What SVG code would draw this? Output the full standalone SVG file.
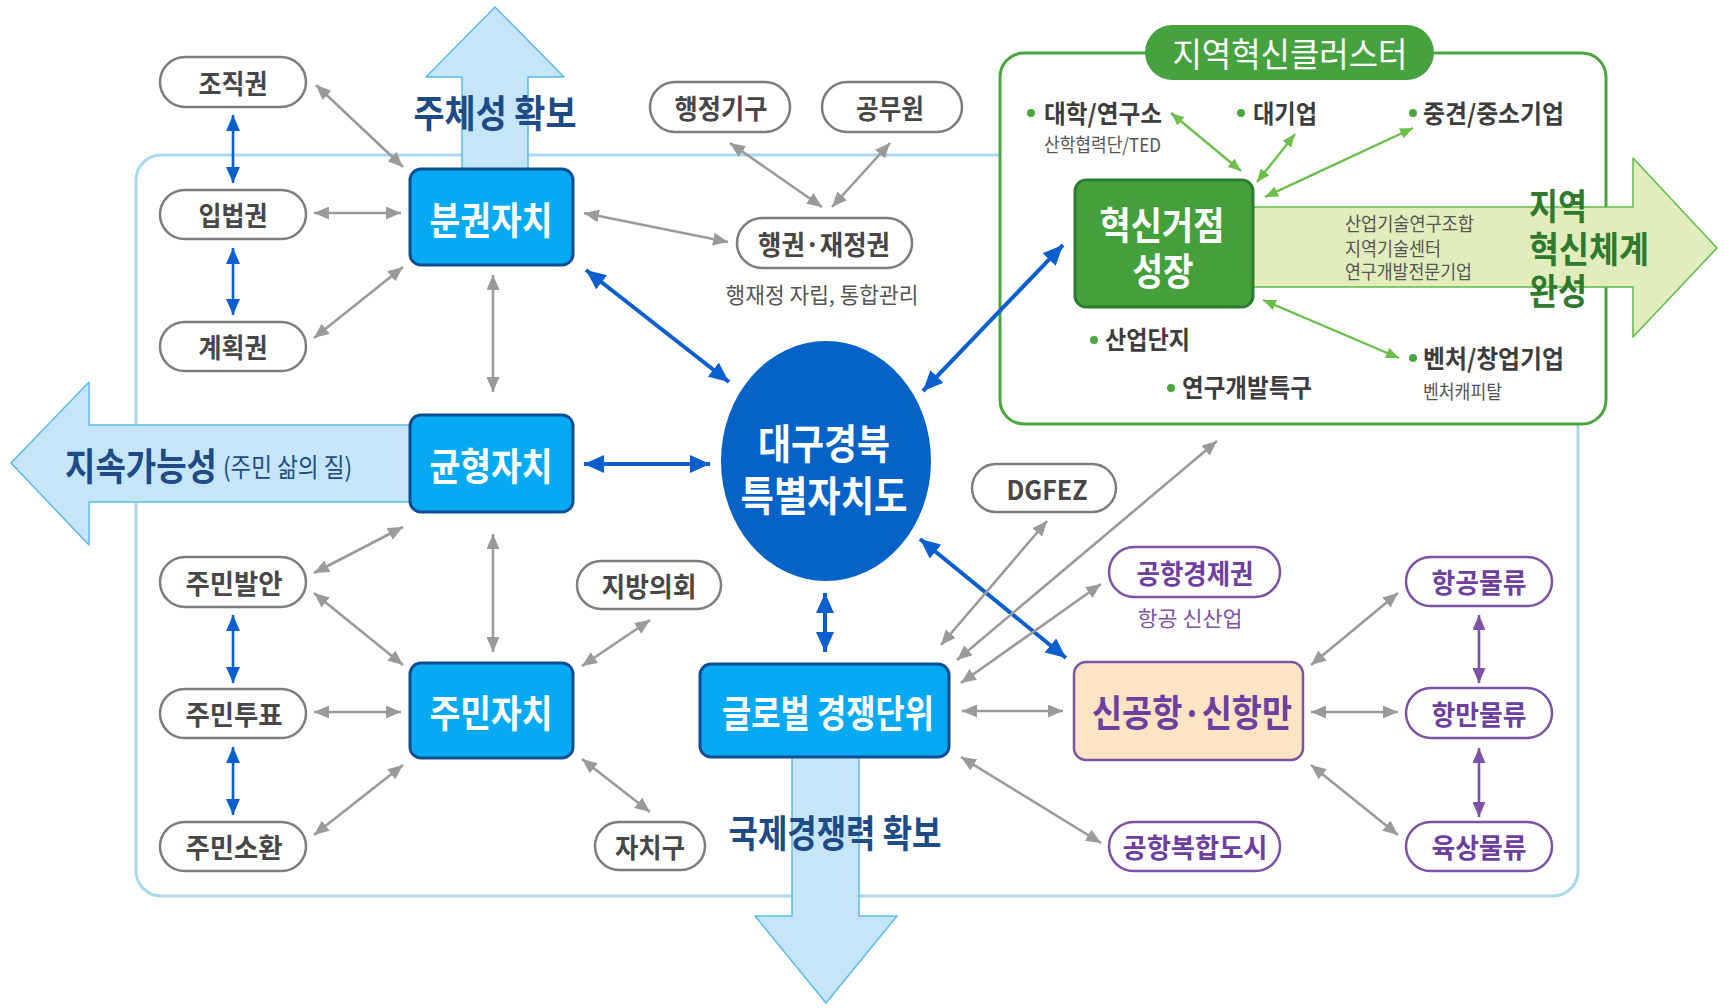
<svg xmlns="http://www.w3.org/2000/svg" width="1727" height="1008" viewBox="0 0 1727 1008">
<style>
text{font-family:'Noto Sans CJK KR','Noto Sans',sans-serif;dominant-baseline:central}
.pill{fill:#fff;stroke:#7d7d7d;stroke-width:2.5}
.ppill{fill:#fff;stroke:#7B52A6;stroke-width:2.5}
.lbl{font-weight:700;font-size:27px;fill:#474747;text-anchor:middle}
.plbl{font-weight:700;font-size:27px;fill:#6C3FA0;text-anchor:middle}
.box{fill:#06AAF2;stroke:#0E4C94;stroke-width:3}
.boxt{font-weight:700;font-size:38px;fill:#fff;text-anchor:middle}
.big{fill:#C4E6F8;stroke:#5DB9EA;stroke-width:1.5;stroke-linejoin:round}
.navy{font-weight:700;font-size:38px;fill:#1E4A86;text-anchor:middle}
.ga{stroke:#9a9a9a;stroke-width:2.6;fill:none;marker-start:url(#mg);marker-end:url(#mg)}
.ba{stroke:#0A5FCF;stroke-width:4;fill:none;marker-start:url(#mb);marker-end:url(#mb)}
.bs{stroke:#0A5FCF;stroke-width:2.6;fill:none;marker-start:url(#mbs);marker-end:url(#mbs)}
.gra{stroke:#6DBF4B;stroke-width:2.4;fill:none;marker-start:url(#mgr);marker-end:url(#mgr)}
.pa{stroke:#7B52A6;stroke-width:2.6;fill:none;marker-start:url(#mp);marker-end:url(#mp)}
.bul{font-weight:700;font-size:25px;fill:#3d3d3d}
.sub{font-weight:400;font-size:19px;fill:#555}
.dot{fill:#4CA640}
</style>
<defs>
<marker id="mg" viewBox="0 0 15 13" refX="15" refY="6.5" markerWidth="15" markerHeight="13" markerUnits="userSpaceOnUse" orient="auto-start-reverse"><path d="M0,0 L15,6.5 L0,13 z" fill="#9a9a9a"/></marker>
<marker id="mb" viewBox="0 0 20 18" refX="20" refY="9" markerWidth="20" markerHeight="18" markerUnits="userSpaceOnUse" orient="auto-start-reverse"><path d="M0,0 L20,9 L0,18 z" fill="#0A5FCF"/></marker>
<marker id="mbs" viewBox="0 0 16 14" refX="16" refY="7" markerWidth="16" markerHeight="14" markerUnits="userSpaceOnUse" orient="auto-start-reverse"><path d="M0,0 L16,7 L0,14 z" fill="#0A5FCF"/></marker>
<marker id="mgr" viewBox="0 0 13 11" refX="13" refY="5.5" markerWidth="13" markerHeight="11" markerUnits="userSpaceOnUse" orient="auto-start-reverse"><path d="M0,0 L13,5.5 L0,11 z" fill="#6DBF4B"/></marker>
<marker id="mp" viewBox="0 0 15 13" refX="15" refY="6.5" markerWidth="15" markerHeight="13" markerUnits="userSpaceOnUse" orient="auto-start-reverse"><path d="M0,0 L15,6.5 L0,13 z" fill="#7B52A6"/></marker>
</defs>
<rect width="1727" height="1008" fill="#fff"/>

<!-- outer frame -->
<rect id="frame" x="136" y="155" width="1442" height="741" rx="25" fill="none" stroke="#A9D9EF" stroke-width="3"/>

<!-- green cluster -->
<g id="cluster">
<rect x="1000" y="53" width="606" height="371" rx="24" fill="#fff" stroke="#4CA640" stroke-width="3"/>
<rect x="1145" y="25" width="289" height="55" rx="27.5" fill="#46A23F"/>
<text x="1290" y="52" font-size="34" fill="#fff" text-anchor="middle" textLength="235" lengthAdjust="spacingAndGlyphs">지역혁신클러스터</text>
</g>

<!-- big arrows -->
<g id="arrow-up"><polygon class="big" points="462,170 462,77 426,77 495,7 564,77 528,77 528,170"/>
<text class="navy" x="495" y="110" textLength="163" lengthAdjust="spacingAndGlyphs">주체성 확보</text></g>
<g id="arrow-left"><polygon class="big" points="410,425 89,425 89,382 11,463 89,545 89,502 410,502"/>
<text x="65" y="463" font-weight="700" font-size="38" fill="#1E4A86" textLength="152" lengthAdjust="spacingAndGlyphs">지속가능성</text>
<text x="223" y="465" font-weight="400" font-size="26" fill="#1E4A86" textLength="129" lengthAdjust="spacingAndGlyphs">(주민 삶의 질)</text></g>
<g id="arrow-down"><polygon class="big" points="792,757 792,916 755,916 826,1003 897,916 859,916 859,757"/>
<text class="navy" x="835" y="830" textLength="213" lengthAdjust="spacingAndGlyphs">국제경쟁력 확보</text></g>
<g id="arrow-green"><polygon points="1253,207 1633,207 1633,158 1717,248 1633,337 1633,287 1253,287" fill="#E1EDBC" stroke="#5DBB4A" stroke-width="1.5" stroke-linejoin="round"/>
<text x="1345" y="222" class="sub" fill="#444" textLength="129" lengthAdjust="spacingAndGlyphs">산업기술연구조합</text>
<text x="1345" y="247" class="sub" textLength="96" lengthAdjust="spacingAndGlyphs">지역기술센터</text>
<text x="1345" y="270" class="sub" textLength="127" lengthAdjust="spacingAndGlyphs">연구개발전문기업</text>
<text x="1529" y="204" font-weight="700" font-size="36" fill="#2F7A2C" textLength="58" lengthAdjust="spacingAndGlyphs">지역</text>
<text x="1529" y="247" font-weight="700" font-size="36" fill="#2F7A2C" textLength="120" lengthAdjust="spacingAndGlyphs">혁신체계</text>
<text x="1529" y="289" font-weight="700" font-size="36" fill="#2F7A2C" textLength="58" lengthAdjust="spacingAndGlyphs">완성</text></g>

<!-- connectors -->
<g id="connectors">
<line class="bs" x1="233" y1="115" x2="233" y2="183"/>
<line class="bs" x1="233" y1="248" x2="233" y2="315"/>
<line class="bs" x1="233" y1="615" x2="233" y2="683"/>
<line class="bs" x1="233" y1="747" x2="233" y2="815"/>
<line class="ba" x1="586" y1="270" x2="729" y2="382"/>
<line class="ba" x1="584" y1="464" x2="710" y2="464"/>
<line class="ba" x1="923" y1="391" x2="1063" y2="245"/>
<line class="ba" x1="825" y1="593" x2="825" y2="652"/>
<line class="ba" x1="920" y1="539" x2="1066" y2="658"/>
<line class="ga" x1="316" y1="85" x2="403" y2="167"/>
<line class="ga" x1="314" y1="213" x2="401" y2="213"/>
<line class="ga" x1="314" y1="338" x2="403" y2="267"/>
<line class="ga" x1="493" y1="275" x2="493" y2="392"/>
<line class="ga" x1="584" y1="213" x2="728" y2="242"/>
<line class="ga" x1="730" y1="143" x2="822" y2="207"/>
<line class="ga" x1="890" y1="143" x2="832" y2="207"/>
<line class="ga" x1="314" y1="573" x2="403" y2="527"/>
<line class="ga" x1="314" y1="593" x2="403" y2="665"/>
<line class="ga" x1="493" y1="534" x2="493" y2="652"/>
<line class="ga" x1="314" y1="712" x2="401" y2="712"/>
<line class="ga" x1="314" y1="835" x2="403" y2="765"/>
<line class="ga" x1="650" y1="620" x2="582" y2="666"/>
<line class="ga" x1="582" y1="759" x2="650" y2="812"/>
<line class="ga" x1="1047" y1="521" x2="941" y2="645"/>
<line class="ga" x1="1217" y1="441" x2="957" y2="660"/>
<line class="ga" x1="1101" y1="584" x2="961" y2="683"/>
<line class="ga" x1="962" y1="711" x2="1063" y2="711"/>
<line class="ga" x1="961" y1="757" x2="1101" y2="843"/>
<line class="ga" x1="1311" y1="665" x2="1398" y2="593"/>
<line class="ga" x1="1311" y1="712" x2="1398" y2="712"/>
<line class="ga" x1="1311" y1="765" x2="1398" y2="835"/>
<line class="gra" x1="1171" y1="113" x2="1241" y2="171"/>
<line class="gra" x1="1295" y1="134" x2="1257" y2="182"/>
<line class="gra" x1="1413" y1="128" x2="1265" y2="197"/>
<line class="gra" x1="1263" y1="300" x2="1399" y2="358"/>
<line class="pa" x1="1479" y1="615" x2="1479" y2="683"/>
<line class="pa" x1="1479" y1="748" x2="1479" y2="817"/>
</g>

<!-- left pills -->
<g id="n-jojik"><rect class="pill" x="160" y="57" width="146" height="50" rx="25"/><text class="lbl" x="233" y="82" textLength="69" lengthAdjust="spacingAndGlyphs">조직권</text></g>
<g id="n-ipbeop"><rect class="pill" x="160" y="190" width="146" height="49" rx="24.5"/><text class="lbl" x="233" y="214" textLength="69" lengthAdjust="spacingAndGlyphs">입법권</text></g>
<g id="n-gyehoek"><rect class="pill" x="160" y="322" width="146" height="49" rx="24.5"/><text class="lbl" x="233" y="346" textLength="69" lengthAdjust="spacingAndGlyphs">계획권</text></g>
<g id="n-balan"><rect class="pill" x="160" y="557" width="146" height="50" rx="25"/><text class="lbl" x="234" y="582" textLength="97" lengthAdjust="spacingAndGlyphs">주민발안</text></g>
<g id="n-tupyo"><rect class="pill" x="160" y="689" width="146" height="49" rx="24.5"/><text class="lbl" x="234" y="713" textLength="97" lengthAdjust="spacingAndGlyphs">주민투표</text></g>
<g id="n-sohwan"><rect class="pill" x="160" y="822" width="146" height="49" rx="24.5"/><text class="lbl" x="234" y="846" textLength="97" lengthAdjust="spacingAndGlyphs">주민소환</text></g>

<!-- top pills -->
<g id="n-haengjeong"><rect class="pill" x="650" y="82" width="140" height="50" rx="25"/><text class="lbl" x="721" y="107" textLength="93" lengthAdjust="spacingAndGlyphs">행정기구</text></g>
<g id="n-gongmu"><rect class="pill" x="822" y="82" width="140" height="50" rx="25"/><text class="lbl" x="890" y="107" textLength="68" lengthAdjust="spacingAndGlyphs">공무원</text></g>
<g id="n-jaejeong"><rect class="pill" x="737" y="218" width="175" height="50" rx="25"/><text class="lbl" x="824" y="243" textLength="132" lengthAdjust="spacingAndGlyphs">행권·재정권</text>
<text x="822" y="293" font-size="22" fill="#555" text-anchor="middle" textLength="193" lengthAdjust="spacingAndGlyphs">행재정 자립, 통합관리</text></g>

<!-- middle pills -->
<g id="n-uihoe"><rect class="pill" x="577" y="561" width="144" height="48" rx="24"/><text class="lbl" x="649" y="585" textLength="95" lengthAdjust="spacingAndGlyphs">지방의회</text></g>
<g id="n-jachigu"><rect class="pill" x="595" y="822" width="110" height="48" rx="24"/><text class="lbl" x="650" y="846" textLength="70" lengthAdjust="spacingAndGlyphs">자치구</text></g>
<g id="n-dgfez"><rect class="pill" x="972" y="464" width="144" height="48" rx="24"/><text class="lbl" x="1047" y="488" textLength="81" lengthAdjust="spacingAndGlyphs">DGFEZ</text></g>

<!-- purple pills -->
<g id="n-gyeongje"><rect class="ppill" x="1109" y="547" width="171" height="50" rx="25"/><text class="plbl" x="1195" y="572" textLength="117" lengthAdjust="spacingAndGlyphs">공항경제권</text>
<text x="1190" y="617" font-size="21" fill="#7B52A6" text-anchor="middle" textLength="105" lengthAdjust="spacingAndGlyphs">항공 신산업</text></g>
<g id="n-bokhap"><rect class="ppill" x="1109" y="822" width="171" height="49" rx="24.5"/><text class="plbl" x="1195" y="846" textLength="145" lengthAdjust="spacingAndGlyphs">공항복합도시</text></g>
<g id="n-hanggong"><rect class="ppill" x="1406" y="557" width="146" height="49" rx="24.5"/><text class="plbl" x="1479" y="581" textLength="95" lengthAdjust="spacingAndGlyphs">항공물류</text></g>
<g id="n-hangman"><rect class="ppill" x="1406" y="688" width="146" height="50" rx="25"/><text class="plbl" x="1479" y="713" textLength="95" lengthAdjust="spacingAndGlyphs">항만물류</text></g>
<g id="n-yuksang"><rect class="ppill" x="1406" y="822" width="146" height="49" rx="24.5"/><text class="plbl" x="1479" y="846" textLength="95" lengthAdjust="spacingAndGlyphs">육상물류</text></g>

<!-- blue boxes -->
<g id="n-bungwon"><rect class="box" x="410" y="169" width="163" height="96" rx="11"/><text class="boxt" x="491" y="217" textLength="123" lengthAdjust="spacingAndGlyphs">분권자치</text></g>
<g id="n-gyunhyeong"><rect class="box" x="410" y="415" width="163" height="97" rx="11"/><text class="boxt" x="491" y="463" textLength="123" lengthAdjust="spacingAndGlyphs">균형자치</text></g>
<g id="n-jumin"><rect class="box" x="410" y="663" width="163" height="95" rx="11"/><text class="boxt" x="491" y="710" textLength="123" lengthAdjust="spacingAndGlyphs">주민자치</text></g>
<g id="n-global"><rect class="box" x="700" y="664" width="249" height="93" rx="11"/><text class="boxt" x="828" y="710" textLength="212" lengthAdjust="spacingAndGlyphs">글로벌 경쟁단위</text></g>

<!-- center ellipse -->
<g id="n-center"><ellipse cx="826" cy="461" rx="105" ry="120" fill="#0563C8"/>
<text x="824" y="441" font-weight="700" font-size="41" fill="#fff" text-anchor="middle" textLength="132" lengthAdjust="spacingAndGlyphs">대구경북</text>
<text x="824" y="493" font-weight="700" font-size="41" fill="#fff" text-anchor="middle" textLength="167" lengthAdjust="spacingAndGlyphs">특별자치도</text></g>

<!-- airport/port -->
<g id="n-airport"><rect x="1074" y="662" width="229" height="98" rx="12" fill="#FDE4C2" stroke="#7B52A6" stroke-width="2.5"/>
<text x="1192" y="711" font-weight="700" font-size="37" fill="#6C3FA0" text-anchor="middle" textLength="200" lengthAdjust="spacingAndGlyphs">신공항·신항만</text></g>

<!-- innovation hub -->
<g id="n-hub"><rect x="1075" y="180" width="178" height="127" rx="11" fill="#43A03B" stroke="#2E7D2E" stroke-width="3"/>
<text x="1162" y="222" font-weight="700" font-size="38" fill="#fff" text-anchor="middle" textLength="125" lengthAdjust="spacingAndGlyphs">혁신거점</text>
<text x="1163" y="268" font-weight="700" font-size="38" fill="#fff" text-anchor="middle" textLength="61" lengthAdjust="spacingAndGlyphs">성장</text></g>

<!-- cluster bullets -->
<g id="n-univ"><circle class="dot" cx="1031" cy="113" r="4"/><text class="bul" x="1044" y="112" textLength="118" lengthAdjust="spacingAndGlyphs">대학/연구소</text>
<text class="sub" x="1044" y="143" textLength="117" lengthAdjust="spacingAndGlyphs">산학협력단/TED</text></g>
<g id="n-large"><circle class="dot" cx="1241" cy="113" r="4"/><text class="bul" x="1253" y="112" textLength="64" lengthAdjust="spacingAndGlyphs">대기업</text></g>
<g id="n-sme"><circle class="dot" cx="1413" cy="113" r="4"/><text class="bul" x="1423" y="112" textLength="141" lengthAdjust="spacingAndGlyphs">중견/중소기업</text></g>
<g id="n-complex"><circle class="dot" cx="1094" cy="340" r="4"/><text class="bul" x="1105" y="338" textLength="85" lengthAdjust="spacingAndGlyphs">산업단지</text></g>
<g id="n-rnd"><circle class="dot" cx="1171" cy="388" r="4"/><text class="bul" x="1182" y="386" textLength="130" lengthAdjust="spacingAndGlyphs">연구개발특구</text></g>
<g id="n-venture"><circle class="dot" cx="1413" cy="358" r="4"/><text class="bul" x="1423" y="357" textLength="141" lengthAdjust="spacingAndGlyphs">벤처/창업기업</text>
<text class="sub" x="1423" y="390" textLength="79" lengthAdjust="spacingAndGlyphs">벤처캐피탈</text></g>
</svg>
